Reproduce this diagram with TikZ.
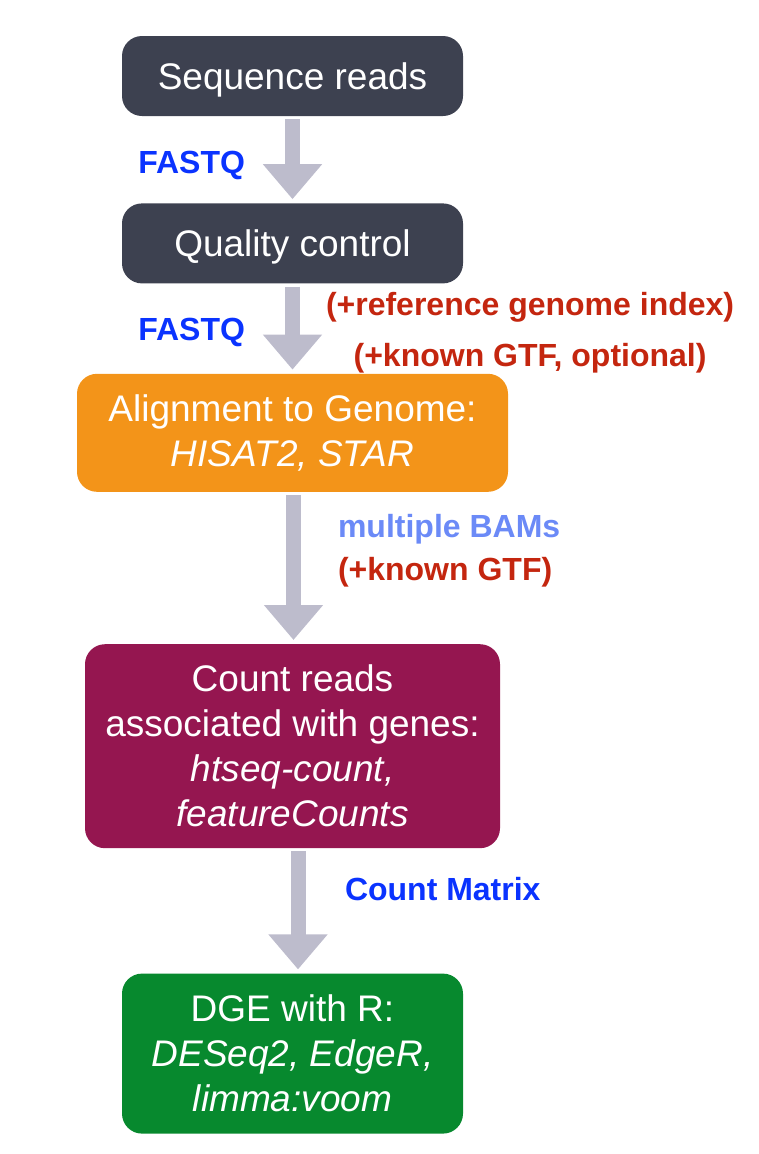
\documentclass[tikz,border=0pt]{standalone}
\usepackage{fontspec}
\setmainfont{Liberation Sans}
\usetikzlibrary{positioning, arrows.meta}

\definecolor{slatebox}{HTML}{3D4150}
\definecolor{alignorange}{HTML}{F39419}
\definecolor{countmaroon}{HTML}{951650}
\definecolor{dgegreen}{HTML}{07892E}
\definecolor{arrowgray}{HTML}{BDBCCC}
\definecolor{fastqblue}{HTML}{0A33FF}
\definecolor{bamblue}{HTML}{6B8AF7}
\definecolor{refred}{HTML}{C4260F}

\tikzset{
    stage/.style={rounded corners=20pt, text=white, align=center, inner sep=0pt,
        font=\fontsize{37}{45}\selectfont},
    flow/.style={-{Triangle[length=35pt, width=57pt]}, line width=15pt, draw=arrowgray,
        shorten <=3pt, shorten >=4pt},
    note/.style={inner sep=0pt, outer sep=0pt, font=\fontsize{32}{43}\selectfont\bfseries}
}

\begin{document}
\begin{tikzpicture}[node distance=87pt]
            \useasboundingbox (0,0) rectangle (758pt,-1154pt);

            % Pipeline stages, top to bottom
            \node (reads) [stage, fill=slatebox, minimum width=341pt, minimum height=80pt,
                text depth=0pt] at (292.5pt,-76pt) {Sequence reads};
            \node (qc) [stage, fill=slatebox, minimum width=341pt, minimum height=80pt,
                text depth=0pt, below=of reads] {Quality control};
            \node (align) [stage, fill=alignorange, minimum width=431pt, minimum height=118pt,
                below=90pt of qc] {Alignment to Genome:\\\itshape HISAT2, STAR};
            \node (count) [stage, fill=countmaroon, minimum width=415pt, minimum height=204pt,
                below=152pt of align] {Count reads\\associated with genes:\\\itshape htseq-count,\\\itshape featureCounts};
            \node (dge) [stage, fill=dgegreen, minimum width=341pt, minimum height=160pt,
                below=125pt of count] {DGE with R:\\\itshape DESeq2, EdgeR,\\\itshape limma:voom};

            % Arrows between stages with their file labels
            \draw[flow] (reads) -- (qc)
                node[midway, left=47.5pt, yshift=-6pt, note, text=fastqblue] (fastqa) {FASTQ};
            \draw[flow] (qc) -- (align)
                node[midway, left=47.5pt, yshift=-4pt, note, text=fastqblue] (fastqb) {FASTQ}
                node[midway, right=33.5pt, yshift=-4.5pt, note, align=center, text=refred,
                    font=\fontsize{32}{51}\selectfont\bfseries] (refidx) {(+reference genome index)\\(+known GTF, optional)};
            \draw[flow] ([xshift=1pt]align.south) -- ([xshift=1pt]count.north)
                node[midway, right=44.5pt, yshift=17.5pt, note, align=left, text=refred] (bams)
                {{\color{bamblue}multiple BAMs}\\(+known GTF)};
            \draw[flow] ([xshift=5.5pt]count.south) -- ([xshift=5.5pt]dge.north)
                node[midway, right=47pt, yshift=22pt, note, text=fastqblue] (matrix) {Count Matrix};
\end{tikzpicture}
\end{document}
